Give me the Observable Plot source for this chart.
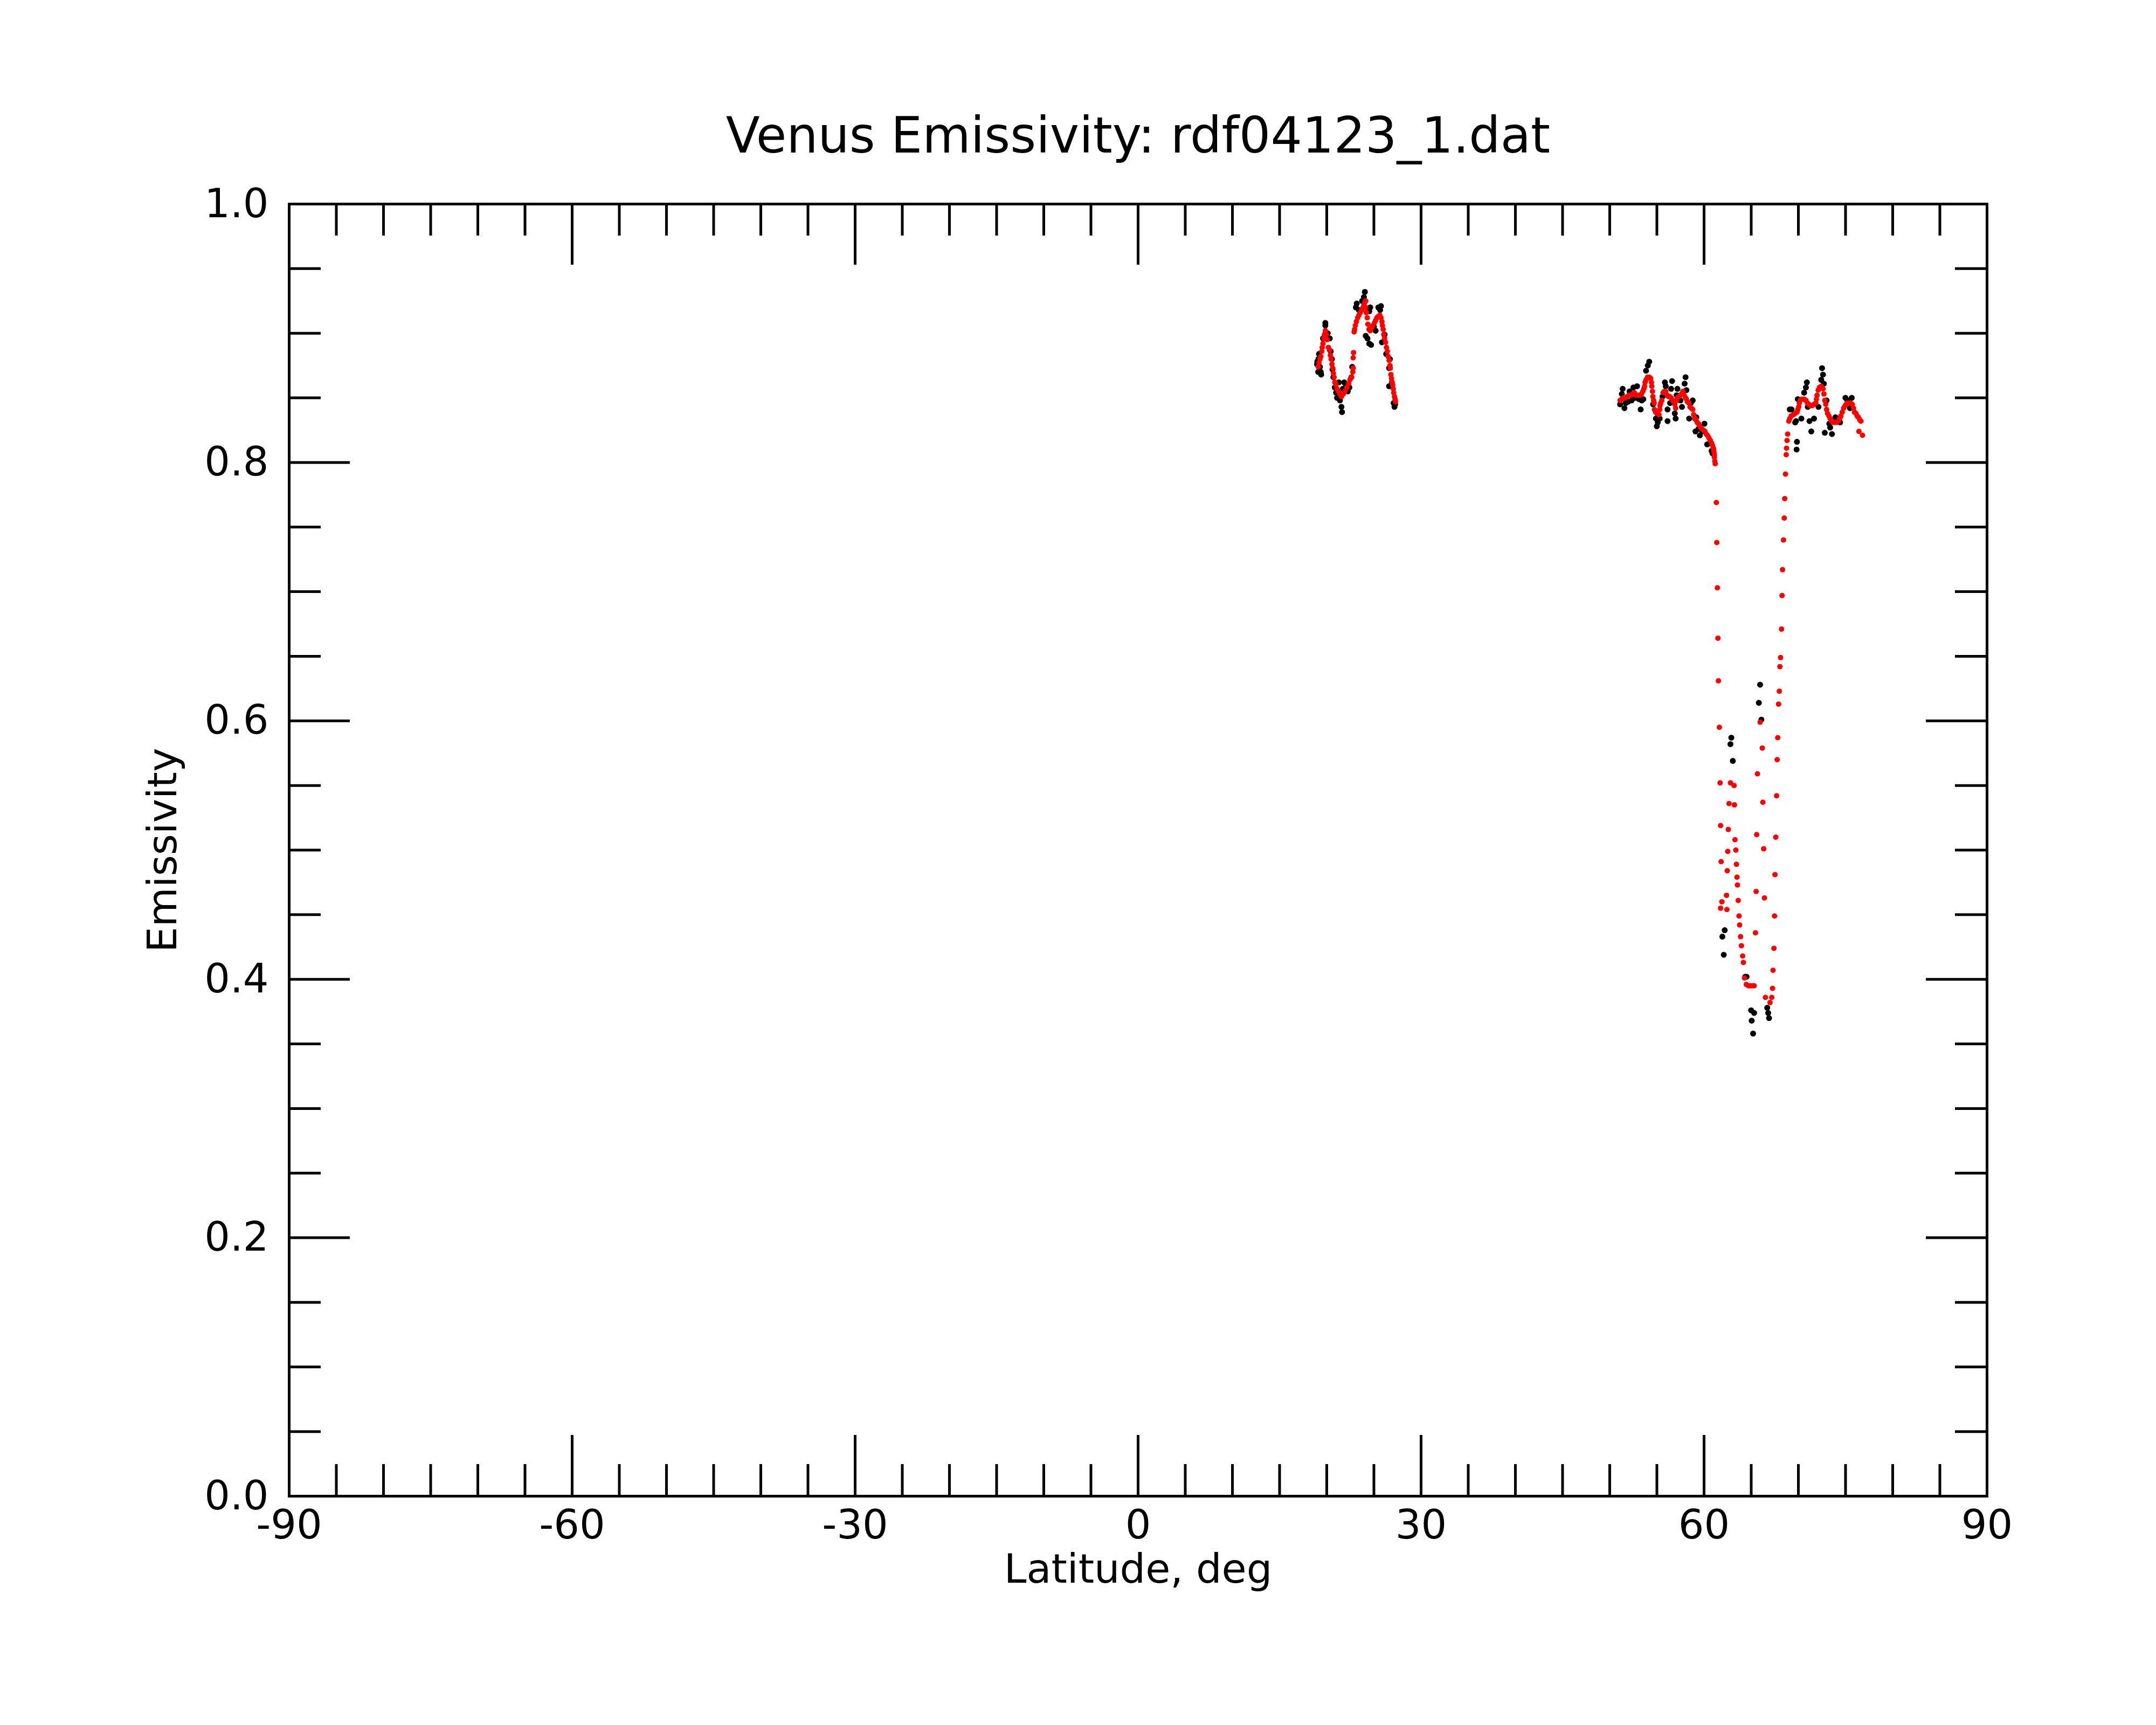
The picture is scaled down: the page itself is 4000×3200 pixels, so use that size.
<!DOCTYPE html>
<html>
<head>
<meta charset="utf-8">
<script src="https://cdn.jsdelivr.net/npm/d3@7"></script>
<script src="https://cdn.jsdelivr.net/npm/@observablehq/plot@0.6"></script>
<style>html,body{margin:0;padding:0;background:#fff}</style>
</head>
<body>
<div id="chart"></div>
<script>
// ---- text ----
const titleText = "Venus Emissivity: rdf04123_1.dat";
const xLabelText = "Latitude, deg";
const yLabelText = "Emissivity";

// ---- ticks ----
const xMajorTicks = [-90, -60, -30, 0, 30, 60, 90];
const xMinorTicks = [-85,-80,-75,-70,-65,-55,-50,-45,-40,-35,-25,-20,-15,-10,-5,5,10,15,20,25,35,40,45,50,55,65,70,75,80,85];
const yMajorTicks = [0, 0.2, 0.4, 0.6, 0.8, 1.0];
const yMinorTicks = [0.05,0.1,0.15,0.25,0.3,0.35,0.45,0.5,0.55,0.65,0.7,0.75,0.85,0.9,0.95];

// ---- data: [latitude, emissivity] ----
// red (smoothed) points
const red1 = [[19.09,0.874],[19.18,0.877],[19.28,0.880],[19.37,0.882],[19.47,0.886],[19.52,0.889],[19.60,0.892],[19.68,0.896],[19.75,0.899],[19.85,0.902],[19.94,0.899],[20.04,0.895],[20.17,0.889],[20.29,0.887],[20.38,0.883],[20.46,0.880],[20.55,0.876],[20.63,0.873],[20.70,0.869],[20.78,0.866],[20.86,0.862],[20.97,0.860],[21.09,0.857],[21.24,0.855],[21.39,0.853],[21.56,0.851],[21.75,0.853],[21.94,0.855],[22.13,0.858],[22.32,0.861],[22.46,0.864],[22.61,0.866],[22.76,0.870],[22.80,0.873],[22.80,0.881],[22.84,0.885],[22.90,0.901],[22.95,0.903],[23.03,0.906],[23.14,0.909],[23.28,0.912],[23.41,0.914],[23.56,0.916],[23.71,0.918],[23.85,0.920],[23.94,0.922],[24.04,0.924],[24.13,0.925],[24.13,0.920],[24.19,0.916],[24.29,0.912],[24.36,0.907],[24.48,0.903],[24.61,0.902],[24.74,0.904],[24.90,0.906],[25.05,0.908],[25.18,0.910],[25.31,0.912],[25.47,0.913],[25.62,0.914],[25.75,0.912],[25.85,0.909],[25.90,0.906],[25.98,0.903],[26.04,0.899],[26.13,0.896],[26.23,0.893],[26.32,0.889],[26.42,0.886],[26.51,0.882],[26.61,0.879],[26.70,0.875],[26.74,0.873],[26.80,0.868],[26.86,0.865],[26.91,0.862],[26.99,0.860],[27.05,0.857],[27.10,0.854],[27.18,0.851],[27.24,0.849],[27.29,0.847]];
const red2 = [[51.09,0.848],[51.28,0.849],[51.47,0.850],[51.66,0.850],[51.85,0.851],[52.04,0.852],[52.23,0.852],[52.42,0.853],[52.61,0.854],[52.80,0.852],[52.99,0.852],[53.18,0.852],[53.37,0.853],[53.51,0.855],[53.62,0.857],[53.70,0.859],[53.75,0.862],[53.85,0.864],[54.00,0.866],[54.19,0.866],[54.34,0.865],[54.42,0.862],[54.46,0.859],[54.53,0.855],[54.57,0.851],[54.65,0.848],[54.71,0.846],[54.74,0.841],[54.86,0.839],[54.99,0.838],[55.22,0.837],[55.30,0.841],[55.33,0.844],[55.41,0.846],[55.52,0.848],[55.66,0.854],[55.79,0.855],[55.94,0.855],[56.10,0.852],[56.23,0.851],[56.36,0.851],[56.51,0.850],[56.67,0.848],[56.80,0.847],[56.90,0.845],[56.99,0.842],[57.09,0.848],[57.18,0.850],[57.32,0.851],[57.47,0.852],[57.62,0.853],[57.75,0.855],[57.89,0.852],[58.04,0.850],[58.13,0.849],[58.23,0.847],[58.38,0.846],[58.51,0.843],[58.65,0.842],[58.80,0.841],[58.90,0.837],[58.99,0.834],[59.14,0.833],[59.28,0.831],[59.41,0.830],[59.56,0.828],[59.75,0.826],[59.94,0.825],[60.10,0.824],[60.23,0.822],[60.36,0.821],[60.51,0.819],[60.67,0.817],[60.80,0.815],[60.90,0.813],[60.99,0.811],[61.03,0.810],[61.05,0.808],[61.09,0.806],[61.09,0.804],[61.14,0.801],[61.18,0.799]];
const redDip = [[61.30,0.769],[61.35,0.738],[61.41,0.703],[61.47,0.664],[61.52,0.631],[61.62,0.595],[61.70,0.552],[61.75,0.519],[61.81,0.491],[61.89,0.460],[61.75,0.455],[62.42,0.454],[62.38,0.465],[62.46,0.484],[62.51,0.499],[62.57,0.516],[62.65,0.536],[62.80,0.552],[63.18,0.550],[63.22,0.535],[63.28,0.508],[63.37,0.500],[63.43,0.489],[63.49,0.479],[63.54,0.473],[63.62,0.461],[63.71,0.449],[63.77,0.442],[63.87,0.433],[63.96,0.426],[64.09,0.418],[64.17,0.413],[64.28,0.401],[64.48,0.396],[64.70,0.395],[64.90,0.395],[65.09,0.395],[65.31,0.395],[65.94,0.599],[66.17,0.579],[65.66,0.559],[66.23,0.537],[65.58,0.512],[66.32,0.501],[65.52,0.468],[66.40,0.463],[65.45,0.436],[66.51,0.386],[66.99,0.382],[67.18,0.386],[67.26,0.393],[67.31,0.407],[67.41,0.424],[67.47,0.449],[67.52,0.481],[67.60,0.510],[67.69,0.542],[67.75,0.570],[67.81,0.587],[67.90,0.613],[67.98,0.623],[68.04,0.642],[68.11,0.649],[68.21,0.671],[68.27,0.697],[68.32,0.717],[68.42,0.740],[68.50,0.757],[68.55,0.772],[68.63,0.791]];
const red3 = [[68.71,0.806],[68.74,0.811],[68.80,0.817],[68.86,0.822],[68.99,0.832],[69.09,0.834],[69.24,0.836],[69.47,0.837],[69.66,0.838],[69.85,0.839],[69.94,0.841],[70.04,0.843],[70.10,0.846],[70.19,0.848],[70.38,0.849],[70.61,0.849],[70.80,0.848],[70.95,0.846],[71.09,0.845],[71.28,0.844],[71.47,0.844],[71.66,0.845],[71.85,0.846],[71.91,0.849],[71.98,0.852],[72.10,0.856],[72.23,0.858],[72.42,0.859],[72.61,0.857],[72.71,0.853],[72.80,0.848],[72.90,0.845],[72.99,0.841],[73.09,0.838],[73.24,0.836],[73.37,0.834],[73.51,0.832],[73.66,0.831],[73.85,0.831],[74.04,0.831],[74.23,0.832],[74.38,0.834],[74.51,0.836],[74.65,0.839],[74.80,0.842],[74.95,0.844],[75.14,0.846],[75.33,0.846],[75.52,0.846],[75.71,0.845],[75.85,0.842],[75.94,0.839],[76.10,0.838],[76.23,0.836],[76.36,0.835],[76.51,0.833],[76.63,0.832],[76.42,0.824],[76.80,0.821]];
// black (raw) points
const black1 = [[18.97,0.876],[19.00,0.878],[19.09,0.870],[19.12,0.880],[19.18,0.884],[19.28,0.874],[19.37,0.870],[19.41,0.868],[19.60,0.896],[19.85,0.908],[19.85,0.906],[20.10,0.900],[20.32,0.896],[20.42,0.886],[20.55,0.880],[20.61,0.872],[20.70,0.866],[20.85,0.858],[20.99,0.854],[21.09,0.850],[21.28,0.862],[21.40,0.848],[21.56,0.843],[21.62,0.839],[21.70,0.857],[21.85,0.862],[22.04,0.860],[22.23,0.855],[22.40,0.858],[22.61,0.866],[22.70,0.874],[23.09,0.920],[23.18,0.923],[23.40,0.918],[23.75,0.925],[23.94,0.928],[24.04,0.932],[24.13,0.898],[24.32,0.896],[24.51,0.892],[24.51,0.917],[24.61,0.920],[24.70,0.891],[25.00,0.905],[25.18,0.902],[25.47,0.920],[25.66,0.918],[25.75,0.921],[25.85,0.893],[26.13,0.899],[26.30,0.884],[26.61,0.873],[26.61,0.859],[26.70,0.880],[26.90,0.862],[27.09,0.846],[27.18,0.843],[27.25,0.845]];
const black2 = [[51.10,0.845],[51.28,0.853],[51.37,0.857],[51.56,0.842],[51.70,0.846],[51.94,0.847],[52.10,0.855],[52.32,0.848],[52.51,0.858],[52.70,0.850],[52.90,0.859],[53.10,0.849],[53.28,0.841],[53.40,0.848],[53.56,0.849],[53.85,0.871],[54.04,0.875],[54.19,0.878],[54.60,0.845],[54.90,0.834],[54.99,0.828],[55.09,0.831],[55.30,0.834],[55.60,0.851],[55.85,0.862],[55.94,0.859],[56.13,0.841],[56.13,0.832],[56.40,0.846],[56.51,0.857],[56.61,0.863],[56.90,0.838],[56.99,0.834],[57.09,0.852],[57.18,0.857],[57.50,0.848],[57.66,0.843],[57.94,0.861],[58.04,0.866],[58.13,0.856],[58.42,0.834],[58.60,0.846],[58.80,0.848],[59.09,0.824],[59.18,0.835],[59.40,0.826],[59.56,0.821],[59.80,0.824],[60.04,0.830],[60.33,0.814],[60.60,0.815],[60.80,0.809],[60.90,0.807]];
const blackDip = [[61.94,0.433],[62.09,0.419],[62.19,0.438],[62.80,0.582],[62.89,0.587],[63.05,0.569],[64.36,0.402],[64.51,0.402],[64.99,0.376],[65.05,0.368],[65.20,0.358],[65.31,0.374],[65.81,0.614],[65.94,0.628],[66.08,0.601],[66.70,0.378],[66.80,0.374],[66.89,0.370]];
const black3 = [[69.09,0.841],[69.28,0.841],[69.66,0.831],[69.75,0.832],[69.81,0.810],[69.85,0.816],[69.94,0.849],[70.32,0.834],[70.61,0.854],[70.80,0.858],[70.90,0.862],[70.99,0.843],[71.18,0.832],[71.37,0.824],[71.66,0.834],[72.13,0.843],[72.42,0.864],[72.51,0.873],[72.61,0.868],[72.70,0.861],[72.80,0.823],[72.99,0.848],[73.28,0.830],[73.37,0.827],[73.56,0.822],[73.94,0.835],[74.42,0.831],[74.99,0.850],[75.20,0.848],[75.47,0.842],[75.66,0.850]];

const redRows = [...red1, ...red2, ...redDip, ...red3].map(([lat, emis]) => ({lat, emis}));
const blackRows = [...black1, ...black2, ...blackDip, ...black3].map(([lat, emis]) => ({lat, emis}));

// ---- layout ----
const W = 4000, H = 3200;
const mL = 536, mR = 314, mT = 378, mB = 425;
const innerW = W - mL - mR, innerH = H - mT - mB;
const majorLen = 113, minorLen = 59, lw = 5;
const fs = 75;

const chart = Plot.plot({
  width: W, height: H,
  marginLeft: mL, marginRight: mR, marginTop: mT, marginBottom: mB,
  style: {fontFamily: "DejaVu Sans", fontSize: fs + "px", background: "#fff", color: "#000"},
  x: {domain: [-90, 90]},
  y: {domain: [0, 1]},
  marks: [
    // data
    Plot.dot(blackRows, {x: "lat", y: "emis", r: 5.5, fill: "#000"}),
    Plot.dot(redRows, {x: "lat", y: "emis", r: 5, fill: "#ff0000"}),
    // inward ticks, all four sides
    Plot.ruleX(xMajorTicks, {insetTop: innerH - majorLen, stroke: "#000", strokeWidth: lw}),
    Plot.ruleX(xMajorTicks, {insetBottom: innerH - majorLen, stroke: "#000", strokeWidth: lw}),
    Plot.ruleX(xMinorTicks, {insetTop: innerH - minorLen, stroke: "#000", strokeWidth: lw}),
    Plot.ruleX(xMinorTicks, {insetBottom: innerH - minorLen, stroke: "#000", strokeWidth: lw}),
    Plot.ruleY(yMajorTicks, {insetRight: innerW - majorLen, stroke: "#000", strokeWidth: lw}),
    Plot.ruleY(yMajorTicks, {insetLeft: innerW - majorLen, stroke: "#000", strokeWidth: lw}),
    Plot.ruleY(yMinorTicks, {insetRight: innerW - minorLen, stroke: "#000", strokeWidth: lw}),
    Plot.ruleY(yMinorTicks, {insetLeft: innerW - minorLen, stroke: "#000", strokeWidth: lw}),
    Plot.frame({stroke: "#000", strokeWidth: lw}),
    // tick labels
    Plot.axisX({ticks: xMajorTicks, tickSize: 0, tickPadding: 25, tickFormat: d => `${d}`, fontSize: fs, label: null}),
    Plot.axisY({ticks: yMajorTicks, tickSize: 0, tickPadding: 38, tickFormat: d3.format(".1f"), fontSize: fs, label: null}),
    // titles
    Plot.text([titleText], {text: d => d, frameAnchor: "top", textAnchor: "middle", dy: -96, lineAnchor: "bottom", fontSize: 92}),
    Plot.text([xLabelText], {text: d => d, frameAnchor: "bottom", textAnchor: "middle", dy: 160, lineAnchor: "bottom", fontSize: fs}),
    Plot.text([yLabelText], {text: d => d, frameAnchor: "left", textAnchor: "middle", dx: -210, rotate: -90, lineAnchor: "bottom", fontSize: fs})
  ]
});
document.getElementById("chart").appendChild(chart);
</script>
</body>
</html>
